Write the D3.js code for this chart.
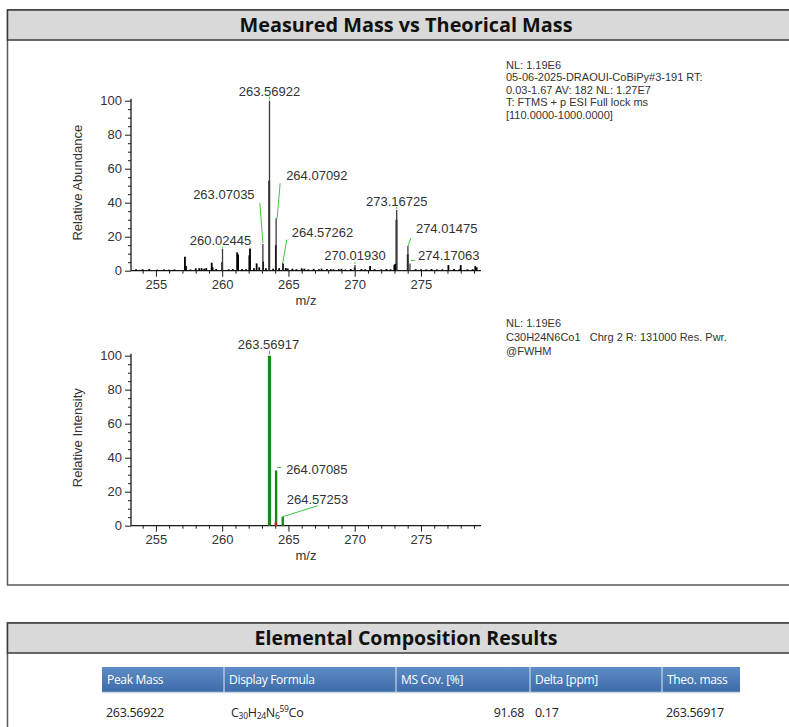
<!DOCTYPE html>
<html><head><meta charset="utf-8">
<script src="https://cdn.jsdelivr.net/npm/d3@7"></script>
<style>body{margin:0;background:#fff;overflow:hidden}</style>
</head><body>
<svg id="c" width="789" height="727"></svg>
<script>
// ---------- DATA ----------
const panelTitles = ["Measured Mass vs Theorical Mass", "Elemental Composition Results"];
const xTicks = [255, 260, 265, 270, 275];
const yTicks = [0, 20, 40, 60, 80, 100];
const xDomain = [253.12, 279.53];

// measured spectrum: centroid (labelled) peaks
const measCentroidMz = [260.02445, 263.07035, 263.56922, 264.07092, 264.57262, 270.01930, 273.16725, 274.01475, 274.17063];
const measCentroidAb = [13.0, 15.7, 100, 30.8, 4.7, 3.3, 35.7, 14.5, 4.3];
// measured spectrum: profile lines (incl. small peaks / noise)
const measProfileMz = [253.5, 254.0, 254.5, 255.1, 255.6, 256.0, 256.4, 257.19, 257.27, 257.6, 258.0, 258.27, 258.45, 258.65, 258.8,
  259.21, 259.28, 259.55, 260.0, 260.5, 260.8, 261.13, 261.2, 261.5, 261.8, 262.05, 262.1, 262.4, 262.6, 262.8, 263.09, 263.3,
  263.55, 263.85, 264.05, 264.3, 264.59, 264.8, 264.95, 265.3, 265.6, 266.0, 266.2, 266.5, 266.9, 267.3, 267.5, 267.9, 268.2, 268.4,
  268.8, 269.0, 269.3, 269.7, 270.0, 270.5, 270.8, 271.16, 271.5, 272.0, 272.4, 272.7, 272.99, 273.05, 273.15, 274.0, 274.6, 275.0,
  275.4, 275.8, 276.2, 276.6, 277.07, 277.5, 277.9, 278.0, 278.5, 278.9, 279.1, 279.2];
const measProfileAb = [0.8, 0.8, 1.0, 0.6, 0.8, 0.6, 0.8, 8.2, 2.7, 0.7, 1.4, 1.5, 1.5, 1.2, 1.5,
  4.7, 2.0, 1.0, 5.0, 0.8, 1.0, 10.8, 9.5, 1.0, 0.8, 9.0, 13.0, 1.4, 4.3, 2.0, 5.3, 1.5,
  53, 1.2, 15, 1.5, 3.9, 1.6, 1.3, 1.2, 0.9, 1.4, 1.2, 0.8, 1.1, 0.8, 1.2, 1.0, 0.9, 0.8,
  0.9, 1.1, 0.7, 1.0, 2.0, 1.0, 0.8, 2.7, 0.9, 0.8, 1.0, 0.8, 3.3, 4.0, 30, 9.6, 0.9, 0.8,
  0.8, 1.0, 0.8, 0.8, 3.3, 1.0, 0.8, 3.3, 0.8, 0.9, 2.7, 2.0];
const measLabelIdx = [0, 1, 2, 3, 4, 5, 6, 7, 8];

// theoretical spectrum
const theoMz = [263.56917, 264.07085, 264.57253];
const theoInt = [100, 32.5, 5.3];
const theoMarkerMz = [264.04];
const theoMarkerInt = [2.0];

// annotations
const measNotes = ["NL: 1.19E6", "05-06-2025-DRAOUI-CoBiPy#3-191 RT:", "0.03-1.67 AV: 182 NL: 1.27E7", "T: FTMS + p ESI Full lock ms", "[110.0000-1000.0000]"];
const theoNotes = ["NL: 1.19E6", "C30H24N6Co1   Chrg 2 R: 131000 Res. Pwr.", "@FWHM"];

// table
const tableHeaders = ["Peak Mass", "Display Formula", "MS Cov. [%]", "Delta [ppm]", "Theo. mass"];
const tablePeakMass = ["263.56922"];
const tableFormula = [[["C", ""], ["30", "sub"], ["H", ""], ["24", "sub"], ["N", ""], ["6", "sub"], ["59", "sup"], ["Co", ""]]];
const tableCov = ["91.68"];
const tableDelta = ["0.17"];
const tableTheo = ["263.56917"];

// ---------- LAYOUT / STYLE ----------
const svg = d3.select("#c");
const FONT = "'Liberation Sans', Arial, sans-serif";
const TFONT = "'Open Sans', sans-serif";
const green = "#16891a", lineGreen = "#3cc83c";

function panel(top, bottom, title, tlen) {
  svg.append("rect").attr("x", 7.5).attr("y", top).attr("width", 800).attr("height", bottom - top)
    .attr("fill", "#fff").attr("stroke", "#595959").attr("stroke-width", 1.5);
  svg.append("rect").attr("x", 7.5).attr("y", top).attr("width", 800).attr("height", 30)
    .attr("fill", "#d9d9d9").attr("stroke", "#3a3a3a").attr("stroke-width", 1.5);
  svg.append("text").attr("x", 406).attr("y", top + 22).attr("text-anchor", "middle")
    .attr("font-family", TFONT).attr("font-weight", 700).attr("font-size", 20)
    .attr("textLength", tlen).attr("lengthAdjust", "spacingAndGlyphs").attr("fill", "#111").text(title);
}
panel(10, 585, panelTitles[0], 333);
panel(623, 760, panelTitles[1], 303);

const x = d3.scaleLinear().domain(xDomain).range([131, 481]);

function axes(y0, yTitle) {
  const y = d3.scaleLinear().domain([0, 100]).range([y0, y0 - 170]);
  const g = svg.append("g");
  const xa = g.append("g").attr("transform", `translate(0,${y0})`)
    .call(d3.axisBottom(x).tickValues(xTicks).tickSize(6).tickPadding(3).tickFormat(d3.format("d")));
  const xm = g.append("g").attr("transform", `translate(0,${y0})`)
    .call(d3.axisBottom(x).tickValues(d3.range(254, 280).filter(v => !xTicks.includes(v))).tickSize(3).tickFormat(""));
  xm.select(".domain").remove();
  const ya = g.append("g").attr("transform", `translate(131,0)`)
    .call(d3.axisLeft(y).tickValues(yTicks).tickSize(6).tickPadding(3).tickFormat(d3.format("d")));
  const ym = g.append("g").attr("transform", `translate(131,0)`)
    .call(d3.axisLeft(y).tickValues(d3.range(0, 101, 5).filter(v => !yTicks.includes(v))).tickSize(3).tickFormat(""));
  ym.select(".domain").remove();
  g.selectAll(".domain").attr("stroke", "#1a1a1a").attr("stroke-width", 1.3);
  g.selectAll(".tick line").attr("stroke", "#1a1a1a").attr("stroke-width", 1);
  g.selectAll(".tick text").attr("font-family", FONT).attr("font-size", 13).attr("fill", "#333");
  xa.selectAll(".domain").attr("d", `M131,0H481`);
  ya.selectAll(".domain").attr("d", `M0,${y0}V${y0 - 172}`);
  g.append("text").attr("x", 306).attr("y", y0 + 34).attr("text-anchor", "middle")
    .attr("font-family", FONT).attr("font-size", 13).attr("fill", "#333").text("m/z");
  g.append("text").attr("transform", `translate(82,${y0 - 88}) rotate(-90)`).attr("text-anchor", "middle")
    .attr("font-family", FONT).attr("font-size", 13).attr("fill", "#333").text(yTitle);
  return y;
}

// ---------- MEASURED ----------
const y1 = axes(270.7, "Relative Abundance");
const gm = svg.append("g");
gm.selectAll("line.prof").data(measProfileMz).join("line").attr("class", "prof")
  .attr("x1", d => x(d)).attr("x2", d => x(d)).attr("y1", y1(0)).attr("y2", (d, i) => y1(measProfileAb[i]))
  .attr("stroke", "#000").attr("stroke-width", 1.8);
gm.selectAll("line.cent").data(measCentroidMz).join("line").attr("class", "cent")
  .attr("x1", d => x(d)).attr("x2", d => x(d)).attr("y1", y1(0)).attr("y2", (d, i) => y1(measCentroidAb[i]))
  .attr("stroke", "#3a3a3a").attr("stroke-width", 1.3);
const measLabelLayout = [
  [-2, -4, "middle", [[0, -2], [0, -1]]],
  [-39, -45, "middle", [[-3, -41], [0, -1]]],
  [0, -5, "middle", [[0, -4], [0, -1]]],
  [10, -38, "start", [[4, -35], [1, 0]]],
  [9, -26, "start", [[4, -23], [0, 0]]],
  [0, -5, "middle", [[0, -3], [0, -1]]],
  [0, -4, "middle", [[0, -3], [0, -1]]],
  [8, -13, "start", [[3, -8], [0, 0]]],
  [8, -3, "start", [[1, -3], [5, -3]]]
];
measLabelIdx.forEach((k, i) => {
  const px = x(measCentroidMz[k]), py = y1(measCentroidAb[k]);
  const L = measLabelLayout[i];
  gm.append("line").attr("x1", px + L[3][0][0]).attr("y1", py + L[3][0][1])
    .attr("x2", px + L[3][1][0]).attr("y2", py + L[3][1][1]).attr("stroke", lineGreen).attr("stroke-width", 1);
  gm.append("text").attr("x", px + L[0]).attr("y", py + L[1]).attr("text-anchor", L[2])
    .attr("font-family", FONT).attr("font-size", 13).attr("fill", "#333").text(measCentroidMz[k].toFixed(5));
});

// ---------- THEORETICAL ----------
const y2 = axes(525.7, "Relative Intensity");
const gt = svg.append("g");
gt.selectAll("line.th").data(theoMz).join("line").attr("class", "th")
  .attr("x1", d => x(d)).attr("x2", d => x(d)).attr("y1", y2(0)).attr("y2", (d, i) => y2(theoInt[i]))
  .attr("stroke", green).attr("stroke-width", (d, i) => i === 0 ? 3.2 : 2.4);
gt.selectAll("line.mk").data(theoMarkerMz).join("line").attr("class", "mk")
  .attr("x1", d => x(d)).attr("x2", d => x(d)).attr("y1", y2(0)).attr("y2", (d, i) => y2(theoMarkerInt[i]))
  .attr("stroke", "#d42020").attr("stroke-width", 2.4);
const theoLabelLayout = [
  [-1, -7, "middle", [[0, -5], [0, -1]]],
  [10, 4, "start", [[1, -3], [5, -3]]],
  [4, -13, "start", [[0, 0], [35, -11]]]
];
theoMz.forEach((m, i) => {
  const px = x(m), py = y2(theoInt[i]);
  const L = theoLabelLayout[i];
  gt.append("line").attr("x1", px + L[3][0][0]).attr("y1", py + L[3][0][1])
    .attr("x2", px + L[3][1][0]).attr("y2", py + L[3][1][1]).attr("stroke", lineGreen).attr("stroke-width", 1);
  gt.append("text").attr("x", px + L[0]).attr("y", py + L[1]).attr("text-anchor", L[2])
    .attr("font-family", FONT).attr("font-size", 13).attr("fill", "#333").text(m.toFixed(5));
});

// ---------- NOTES ----------
function notes(arr, top, step) {
  svg.append("g").selectAll("text").data(arr).join("text")
    .attr("x", 506).attr("y", (d, i) => top + i * step)
    .attr("font-family", FONT).attr("font-size", 11).attr("fill", "#333")
    .attr("xml:space", "preserve").style("white-space", "pre").text(d => d);
}
notes(measNotes, 69, 12.4);
notes(theoNotes, 326.5, 14);

// ---------- TABLE ----------
const colEdges = [102, 224, 396, 530, 662, 740];
const defs = svg.append("defs");
const grad = defs.append("linearGradient").attr("id", "hdr").attr("x1", 0).attr("y1", 0).attr("x2", 0).attr("y2", 1);
grad.append("stop").attr("offset", 0).attr("stop-color", "#5d8cc6");
grad.append("stop").attr("offset", 1).attr("stop-color", "#3d6ba8");
const tg = svg.append("g");
tg.append("rect").attr("x", colEdges[0]).attr("y", 667).attr("width", colEdges[5] - colEdges[0]).attr("height", 25.5)
  .attr("fill", "url(#hdr)");
tg.append("line").attr("x1", colEdges[0]).attr("x2", colEdges[5]).attr("y1", 692.5).attr("y2", 692.5)
  .attr("stroke", "#c9d6e6").attr("stroke-width", 1.5);
colEdges.slice(1, 5).forEach(e => tg.append("line").attr("x1", e).attr("x2", e).attr("y1", 667).attr("y2", 692.5)
  .attr("stroke", "#dfe8f3").attr("stroke-width", 1));
tableHeaders.forEach((h, i) => tg.append("text").attr("x", colEdges[i] + 5).attr("y", 683.5)
  .attr("font-family", TFONT).attr("font-size", 12).attr("letter-spacing", -0.3).attr("fill", "#fff").text(h));
const rowY = 716.5;
const cell = (t, xx, anchor) => tg.append("text").attr("x", xx).attr("y", rowY).attr("text-anchor", anchor || "start")
  .attr("font-family", TFONT).attr("font-size", 12.5).attr("letter-spacing", -0.3).attr("fill", "#222").text(t);
cell(tablePeakMass[0], colEdges[0] + 4);
const ft = tg.append("text").attr("x", colEdges[1] + 7).attr("y", rowY).attr("font-family", TFONT)
  .attr("font-size", 12.5).attr("letter-spacing", -0.3).attr("fill", "#222");
const off = { "": 0, sub: 2.5, sup: -4.5 };
tableFormula[0].forEach(([t, k], i) => {
  const prev = i > 0 ? tableFormula[0][i - 1][1] : "";
  const s = ft.append("tspan").text(t).attr("dy", off[k] - off[prev]);
  if (k) s.attr("font-size", 8.5);
});
cell(tableCov[0], colEdges[3] - 6, "end");
cell(tableDelta[0], colEdges[3] + 5);
cell(tableTheo[0], colEdges[4] + 4);
</script>
</body></html>
